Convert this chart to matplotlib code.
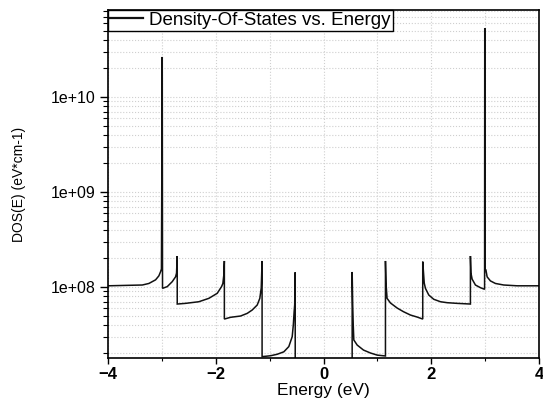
import numpy as np
import matplotlib
matplotlib.use("Agg")
import matplotlib.pyplot as plt
from matplotlib.ticker import LogLocator, FuncFormatter, NullFormatter, MultipleLocator

plt.rcParams['font.family'] = ['Liberation Sans', 'DejaVu Sans']

# Energy (eV) and DOS (in units of 1e8 eV^-1 cm^-1).
# The pair at +-0.53 with 0.01 marks the gap (DOS below the visible range).
energy = [
    -4.0, -3.364, -3.241, -3.117, -3.056, -3.024, -3.008, -2.993, -2.988,
    -2.9, -2.807, -2.746, -2.728, -2.715, -2.715,
    -2.56, -2.314, -2.128, -1.972, -1.892, -1.868, -1.85, -1.84, -1.84,
    -1.725, -1.54, -1.416, -1.323, -1.23, -1.182, -1.156, -1.14, -1.14,
    -0.983, -0.859, -0.736, -0.644, -0.581, -0.56, -0.545, -0.535, -0.525, -0.525,
    0.532, 0.532, 0.542, 0.552, 0.563, 0.625, 0.742, 0.872, 0.997, 1.15,
    1.15, 1.16, 1.18, 1.243, 1.367, 1.484, 1.614, 1.738, 1.842,
    1.842, 1.87, 1.892, 1.954, 2.046, 2.171, 2.295, 2.48, 2.727,
    2.727, 2.737, 2.759, 2.82, 2.913, 2.99, 2.993,
    3.0, 3.015, 3.037, 3.098, 3.191, 3.345, 3.594, 4.0,
]
dos_1e8 = [
    1.03, 1.05, 1.09, 1.19, 1.31, 1.45, 1.55, 264.0, 0.968,
    1.01, 1.14, 1.28, 1.40, 2.12, 0.662,
    0.673, 0.700, 0.760, 0.859, 1.01, 1.09, 1.34, 1.88, 0.460,
    0.480, 0.495, 0.528, 0.573, 0.647, 0.760, 0.975, 1.88, 0.185,
    0.189, 0.196, 0.208, 0.236, 0.300, 0.40, 0.55, 0.646, 1.43, 0.01,
    0.01, 1.44, 0.647, 0.398, 0.277, 0.245, 0.217, 0.202, 0.192, 0.188,
    1.88, 1.10, 0.760, 0.679, 0.601, 0.550, 0.507, 0.483, 0.460,
    1.85, 1.10, 0.968, 0.824, 0.743, 0.700, 0.684, 0.673, 0.662,
    2.12, 1.40, 1.21, 1.05, 0.984, 0.946, 532.0,
    1.51, 1.51, 1.28, 1.16, 1.09, 1.05, 1.03, 1.03,
]
x_ticks = [-4, -2, 0, 2, 4]
legend_label = "Density-Of-States vs. Energy"

E = np.array(energy)
D = np.array(dos_1e8) * 1e8

fig = plt.figure(figsize=(5.43, 4.04), dpi=100)
ax = fig.add_axes([108/543, 1-358/404, (539-108)/543, (358-10)/404])

ax.plot(E, D, color='#111111', lw=1.1, label=legend_label, solid_joinstyle='miter')
ax.set_yscale('log')
ax.set_xlim(-4, 4)
ax.set_ylim(1.79e7, 8.24e10)

ax.set_xticks(x_ticks)
ax.xaxis.set_minor_locator(MultipleLocator(1))
ax.yaxis.set_major_locator(LogLocator(base=10, numticks=10))
ax.yaxis.set_minor_locator(LogLocator(base=10, subs=np.arange(2, 10), numticks=100))
ax.yaxis.set_major_formatter(FuncFormatter(lambda v, p: f"{v:.0e}"))
ax.yaxis.set_minor_formatter(NullFormatter())

ax.grid(True, which='both', axis='both', color='#cfcfcf', linestyle=':', linewidth=0.8)
ax.set_axisbelow(True)

ax.tick_params(axis='x', which='major', direction='out', length=4, width=1, pad=2.5,
               labelsize=12)
ax.tick_params(axis='x', which='minor', direction='out', length=2.5, width=0.8)
ax.tick_params(axis='y', which='major', direction='out', length=6, width=1, pad=3,
               labelsize=11.5)
ax.tick_params(axis='y', which='minor', direction='out', length=3.5, width=0.8)
for lab in ax.get_xticklabels():
    lab.set_fontweight('bold')

for s in ax.spines.values():
    s.set_linewidth(1.2)
    s.set_color('black')

ax.set_xlabel("Energy (eV)", fontsize=12.5, labelpad=1)
ax.set_ylabel("DOS(E) (eV*cm-1)", fontsize=10, labelpad=18)

leg = ax.legend(loc='upper left', bbox_to_anchor=(0, 1), borderaxespad=0,
                fontsize=13.5, frameon=True, fancybox=False, shadow=False,
                handlelength=1.75, handletextpad=0.35, borderpad=0.1,
                framealpha=1)
leg.get_frame().set_edgecolor('black')
leg.get_frame().set_linewidth(1.0)
for h in leg.get_lines():
    h.set_linewidth(1.6)

fig.savefig("out.png", dpi=100)
